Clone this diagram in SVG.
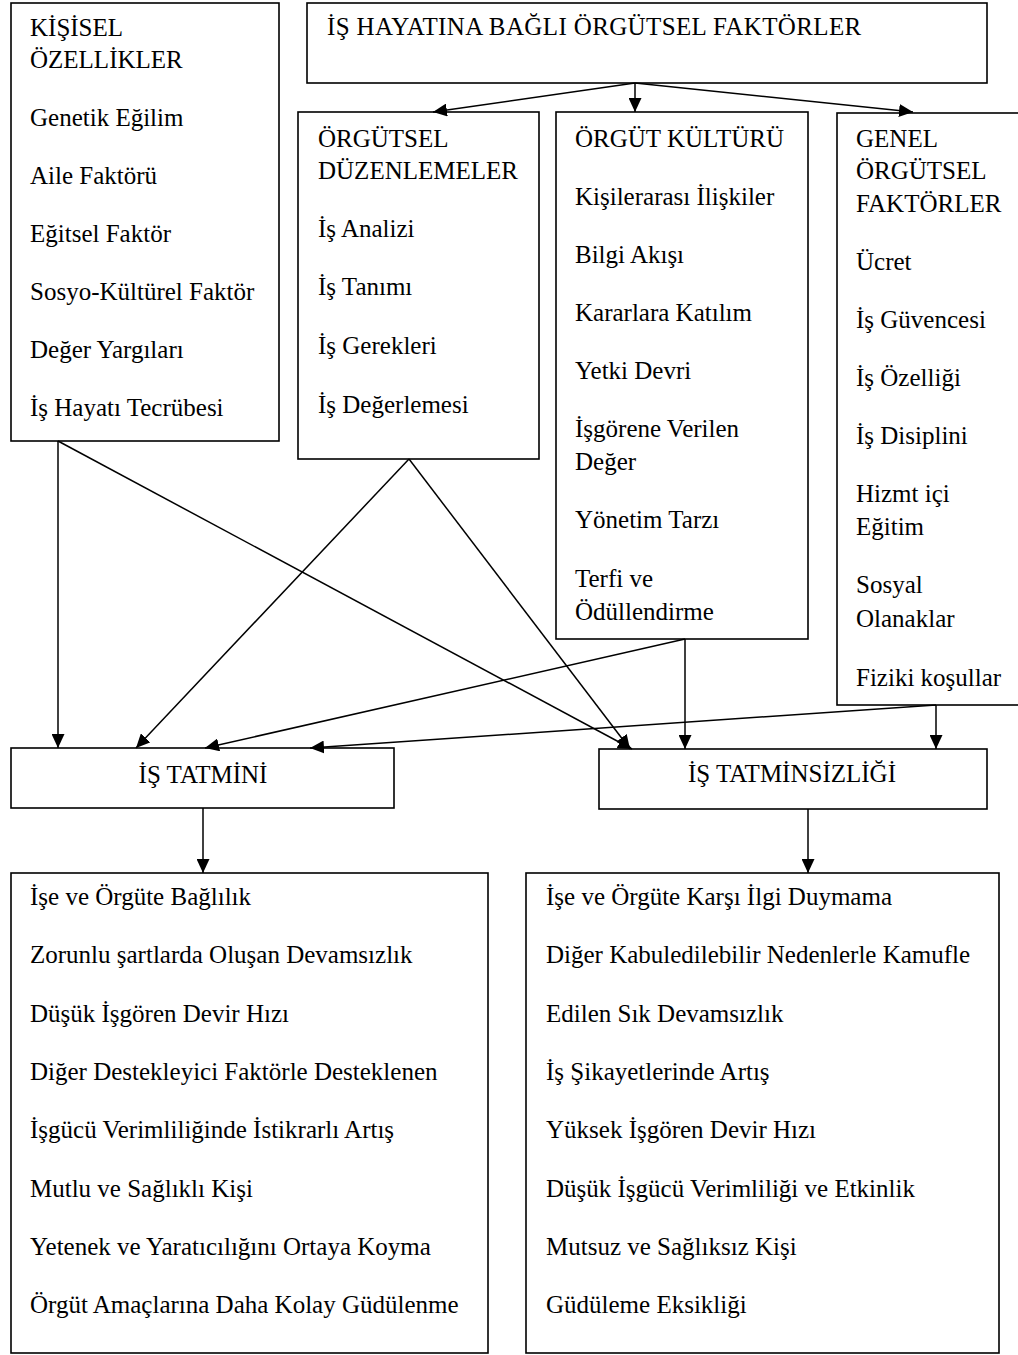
<svg xmlns="http://www.w3.org/2000/svg" width="1018" height="1355" viewBox="0 0 1018 1355">
  <style>
    .box { fill: #ffffff; stroke: #000000; stroke-width: 1.6; }
    .t { font-family: "Liberation Serif", "Times New Roman", serif; font-size: 25px; fill: #000000; }
    .c { text-anchor: middle; }
    .edge { stroke: #000000; stroke-width: 1.5; fill: none; marker-end: url(#arrow); }
  </style>
  <defs>
    <marker id="arrow" viewBox="0 0 14 13" refX="14" refY="6.5" markerWidth="14" markerHeight="13" markerUnits="userSpaceOnUse" orient="auto">
      <path d="M0,0 L14,6.5 L0,13 Z" fill="#000000"/>
    </marker>
  </defs>
  <rect width="1018" height="1355" fill="#ffffff"/>

  <!-- personal characteristics -->
  <g id="kisisel">
    <rect class="box" x="11" y="3" width="268" height="438"/>
    <text class="t" x="30" y="36">KİŞİSEL</text>
    <text class="t" x="30" y="68">ÖZELLİKLER</text>
    <text class="t" x="30" y="126">Genetik Eğilim</text>
    <text class="t" x="30" y="184">Aile Faktörü</text>
    <text class="t" x="30" y="242">Eğitsel Faktör</text>
    <text class="t" x="30" y="300">Sosyo-Kültürel Faktör</text>
    <text class="t" x="30" y="358">Değer Yargıları</text>
    <text class="t" x="30" y="416">İş Hayatı Tecrübesi</text>
  </g>

  <!-- organisational factors header -->
  <g id="orgutsel-faktorler">
    <rect class="box" x="307" y="3" width="680" height="80"/>
    <text class="t" x="327" y="35" letter-spacing="0.37">İŞ HAYATINA BAĞLI ÖRGÜTSEL FAKTÖRLER</text>
  </g>

  <g id="duzenlemeler">
    <rect class="box" x="298" y="112" width="241" height="347"/>
    <text class="t" x="318" y="147">ÖRGÜTSEL</text>
    <text class="t" x="318" y="179">DÜZENLEMELER</text>
    <text class="t" x="318" y="237">İş Analizi</text>
    <text class="t" x="318" y="295">İş Tanımı</text>
    <text class="t" x="318" y="354">İş Gerekleri</text>
    <text class="t" x="318" y="413">İş Değerlemesi</text>
  </g>

  <g id="kultur">
    <rect class="box" x="556" y="112" width="252" height="527"/>
    <text class="t" x="575" y="147">ÖRGÜT KÜLTÜRÜ</text>
    <text class="t" x="575" y="205">Kişilerarası İlişkiler</text>
    <text class="t" x="575" y="263">Bilgi Akışı</text>
    <text class="t" x="575" y="321">Kararlara Katılım</text>
    <text class="t" x="575" y="379">Yetki Devri</text>
    <text class="t" x="575" y="437">İşgörene Verilen</text>
    <text class="t" x="575" y="470">Değer</text>
    <text class="t" x="575" y="528">Yönetim Tarzı</text>
    <text class="t" x="575" y="587">Terfi ve</text>
    <text class="t" x="575" y="620">Ödüllendirme</text>
  </g>

  <g id="genel">
    <rect class="box" x="837" y="113" width="190" height="592"/>
    <text class="t" x="856" y="147">GENEL</text>
    <text class="t" x="856" y="179">ÖRGÜTSEL</text>
    <text class="t" x="856" y="212">FAKTÖRLER</text>
    <text class="t" x="856" y="270">Ücret</text>
    <text class="t" x="856" y="328">İş Güvencesi</text>
    <text class="t" x="856" y="386">İş Özelliği</text>
    <text class="t" x="856" y="444">İş Disiplini</text>
    <text class="t" x="856" y="502">Hizmt içi</text>
    <text class="t" x="856" y="535">Eğitim</text>
    <text class="t" x="856" y="593">Sosyal</text>
    <text class="t" x="856" y="627">Olanaklar</text>
    <text class="t" x="856" y="686">Fiziki koşullar</text>
  </g>

  <g id="tatmin">
    <rect class="box" x="11" y="748" width="383" height="60"/>
    <text class="t c" x="203" y="783">İŞ TATMİNİ</text>
  </g>

  <g id="tatminsizlik">
    <rect class="box" x="599" y="749" width="388" height="60"/>
    <text class="t c" x="792" y="782">İŞ TATMİNSİZLİĞİ</text>
  </g>

  <g id="tatmin-sonuclari">
    <rect class="box" x="11" y="873" width="477" height="480"/>
    <text class="t" x="30" y="905">İşe ve Örgüte Bağlılık</text>
    <text class="t" x="30" y="963">Zorunlu şartlarda Oluşan Devamsızlık</text>
    <text class="t" x="30" y="1022">Düşük İşgören Devir Hızı</text>
    <text class="t" x="30" y="1080">Diğer Destekleyici Faktörle Desteklenen</text>
    <text class="t" x="30" y="1138">İşgücü Verimliliğinde İstikrarlı Artış</text>
    <text class="t" x="30" y="1197">Mutlu ve Sağlıklı Kişi</text>
    <text class="t" x="30" y="1255">Yetenek ve Yaratıcılığını Ortaya Koyma</text>
    <text class="t" x="30" y="1313">Örgüt Amaçlarına Daha Kolay Güdülenme</text>
  </g>

  <g id="tatminsizlik-sonuclari">
    <rect class="box" x="526" y="873" width="473" height="480"/>
    <text class="t" x="546" y="905">İşe ve Örgüte Karşı İlgi Duymama</text>
    <text class="t" x="546" y="963">Diğer Kabuledilebilir Nedenlerle Kamufle</text>
    <text class="t" x="546" y="1022">Edilen Sık Devamsızlık</text>
    <text class="t" x="546" y="1080">İş Şikayetlerinde Artış</text>
    <text class="t" x="546" y="1138">Yüksek İşgören Devir Hızı</text>
    <text class="t" x="546" y="1197">Düşük İşgücü Verimliliği ve Etkinlik</text>
    <text class="t" x="546" y="1255">Mutsuz ve Sağlıksız Kişi</text>
    <text class="t" x="546" y="1313">Güdüleme Eksikliği</text>
  </g>

  <!-- connectors -->
  <g id="connectors">
    <line class="edge" x1="635" y1="83" x2="433" y2="112"/>
    <line class="edge" x1="635" y1="83" x2="635" y2="112"/>
    <line class="edge" x1="635" y1="83" x2="913" y2="112"/>

    <line class="edge" x1="58" y1="441" x2="58" y2="748"/>
    <line class="edge" x1="58" y1="441" x2="632" y2="749"/>

    <line class="edge" x1="409" y1="459" x2="136" y2="748"/>
    <line class="edge" x1="409" y1="459" x2="630" y2="749"/>

    <line class="edge" x1="685" y1="639" x2="205" y2="748"/>
    <line class="edge" x1="685" y1="639" x2="685" y2="749"/>

    <line class="edge" x1="936" y1="705" x2="310" y2="748"/>
    <line class="edge" x1="936" y1="705" x2="936" y2="749"/>

    <line class="edge" x1="203" y1="808" x2="203" y2="873"/>
    <line class="edge" x1="808" y1="809" x2="808" y2="873"/>
  </g>
</svg>
